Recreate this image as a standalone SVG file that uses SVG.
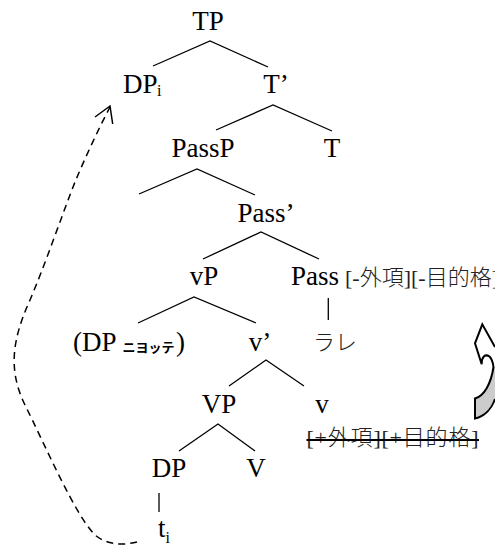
<svg xmlns="http://www.w3.org/2000/svg" width="495" height="547" viewBox="0 0 495 547">
  <style>
    .lbl { font-family: "Liberation Serif", "Noto Sans CJK JP", serif; font-size: 27px; fill: #000; }
    .mid { text-anchor: middle; }
    .sub { font-family: "Liberation Serif", serif; font-size: 16px; }
    .jp { font-family: "Liberation Serif", "Noto Sans CJK JP", sans-serif; font-size: 22px; font-weight: 300; fill: #222; }
    .kana { font-family: "Noto Sans CJK JP", sans-serif; font-size: 13px; font-weight: bold; }
    .branch { fill: none; stroke: #000; stroke-width: 1.3; }
    .move { fill: none; stroke: #000; stroke-width: 1.5; stroke-dasharray: 7 5; }
    .head { fill: none; stroke: #000; stroke-width: 1.5; }
    .curl { stroke: #000; stroke-width: 2; stroke-linejoin: miter; }
  </style>

  <!-- tree branches and the movement arrow -->
  <g id="connectors">
    <polyline class="branch" points="153,66 210,41 268,67"/>
    <polyline class="branch" points="216,130 273,105 332,131"/>
    <polyline class="branch" points="139,194 197,169 255,195"/>
    <polyline class="branch" points="203,259 261,232 319,259"/>
    <polyline class="branch" points="138,323 194,297 256,323"/>
    <line class="branch" x1="328.3" y1="298" x2="328.3" y2="320"/>
    <polyline class="branch" points="229,386 266,360 304,386"/>
    <polyline class="branch" points="179,451 218,424 255,451"/>
    <line class="branch" x1="159" y1="493" x2="159" y2="512"/>
    <path class="move" d="M137,542 C125,545 108,546 95,535 C75,515 45,445 25,405 C8,370 12,340 30,300 C45,265 62,215 75,182 C85,158 98,130 110,107"/>
    <polyline class="head" points="95,117 110,106 112.7,124"/>
  </g>

  <g id="TP"><text class="lbl mid" x="208" y="30">TP</text></g>
  <g id="DPi"><text class="lbl" x="123" y="93">DP</text><text class="sub" x="157" y="96">i</text></g>
  <g id="Tbar"><text class="lbl mid" x="276" y="93">T’</text></g>
  <g id="PassP"><text class="lbl mid" x="203" y="157">PassP</text></g>
  <g id="T"><text class="lbl mid" x="332" y="157">T</text></g>
  <g id="Passbar"><text class="lbl mid" x="266" y="222">Pass’</text></g>
  <g id="vP"><text class="lbl mid" x="204" y="285">vP</text></g>
  <g id="Pass">
    <text class="lbl" x="291" y="285">Pass</text>
    <text class="jp" x="345" y="285">[-外項][-目的格]</text>
  </g>
  <g id="DP-niyotte">
    <text class="lbl" x="73" y="351">(DP</text>
    <text class="kana" x="122.5" y="352">ニヨッテ</text>
    <text class="lbl" x="176" y="351">)</text>
  </g>
  <g id="vbar"><text class="lbl mid" x="260" y="351">v’</text></g>
  <g id="rare"><text class="jp" x="313" y="350">ラレ</text></g>
  <g id="VP"><text class="lbl mid" x="219" y="413">VP</text></g>
  <g id="v">
    <text class="lbl mid" x="322" y="413">v</text>
    <text class="jp" x="306.5" y="445" textLength="172" lengthAdjust="spacing">[+外項][+目的格]</text>
    <line x1="306.5" y1="440" x2="479" y2="440" stroke="#000" stroke-width="2"/>
  </g>
  <g id="DP"><text class="lbl mid" x="169" y="477">DP</text></g>
  <g id="V"><text class="lbl mid" x="256" y="477">V</text></g>
  <g id="trace"><text class="lbl" x="158" y="537">t</text><text class="sub" x="165.5" y="543">i</text></g>

  <!-- curved block arrow at the right edge -->
  <g id="curl-arrow">
    <path d="M495,347 L482.3,324.3 L475,343.3 L481.7,364.3 C481.5,357 485,353.5 489.5,356.5 C492,359 493,363 493.5,367 L495,367 Z" fill="#fff"/>
    <path d="M493.5,367 C491,384 484,396 475,398.5 L475,418.5 C485,416 492,408 495,399 L495,367 Z" fill="#cccccc"/>
    <path class="curl" fill="none" d="M495,347 L482.3,324.3 L475,343.3 L481.7,364.3 C481.5,357 485,353.5 489.5,356.5 C492,359 493,363 493.5,367 C491,384 484,396 475,398.5 L475,418.5 C485,416 492,408 495,399"/>
  </g>
</svg>
